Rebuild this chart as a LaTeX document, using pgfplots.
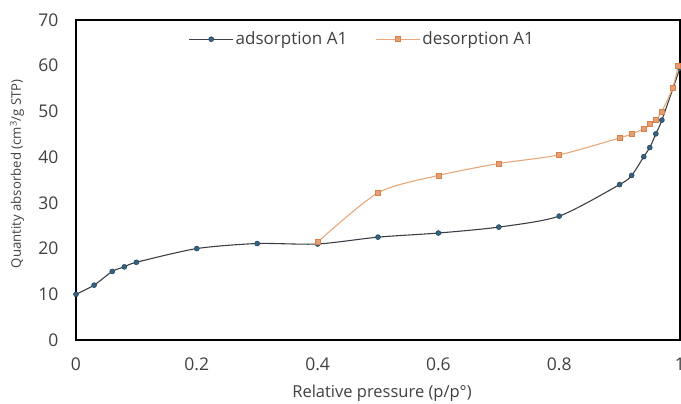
\documentclass[border=0pt]{standalone}
\usepackage{fontspec}
\setmainfont{Open Sans}
\usepackage{pgfplots}
\pgfplotsset{compat=1.18}
\definecolor{adsline}{RGB}{60,64,70}
\definecolor{adsmark}{RGB}{52,98,128}
\definecolor{desline}{RGB}{232,168,122}
\definecolor{desmark}{RGB}{218,128,72}
\definecolor{ticktext}{RGB}{64,64,64}

\begin{document}
\begin{tikzpicture}
\begin{axis}[
    scale only axis,
    width=604pt, height=320pt,
    xmin=0, xmax=1, ymin=0, ymax=70,
    xtick={0,0.2,0.4,0.6,0.8,1},
    ytick={0,10,...,70},
    xticklabels={0,0.2,0.4,0.6,0.8,1},
    /pgf/number format/assume math mode=true,
    tick style={draw=none},
    axis line style={black, line width=1.6pt},
    tick label style={font=\fontsize{17.5}{19}\selectfont, text=ticktext},
    xticklabel style={yshift=-14pt},
    yticklabel style={xshift=-14pt},
    xlabel={Relative pressure (p/p\textdegree)},
    ylabel={Quantity absorbed (cm\textsuperscript{3}/g STP)},
    xlabel style={font=\fontsize{16.5}{18}\selectfont, text=ticktext, at={(0.5,-0.13)}, anchor=north, xshift=4pt},
    ylabel style={font=\fontsize{13.2}{15}\selectfont, text=ticktext, at={(-0.08,0.52)}, anchor=south},
    legend style={draw=none, fill=none, at={(0.474,0.94)}, anchor=center,
        font=\fontsize{17}{19}\selectfont, text=ticktext,
        /tikz/every even column/.append style={column sep=26pt}},
    legend columns=2,
    legend image code/.code={
        \draw[#1] (0pt,0pt) -- (44pt,0pt);
        \draw[#1, only marks] plot coordinates {(22pt,0pt)};
    },
]
\addplot[smooth, tension=0.45, color=adsline, line width=1.1pt,
    mark=*, mark size=2.5pt, mark options={fill=adsmark, draw=adsmark!70!black, line width=0.5pt}]
coordinates {
    (0,10) (0.03,12) (0.06,15) (0.08,16) (0.1,17) (0.2,20) (0.3,21.1) (0.4,21)
    (0.5,22.5) (0.6,23.4) (0.7,24.7) (0.8,27.1) (0.9,34) (0.92,36) (0.94,40.1)
    (0.95,42.1) (0.96,45.1) (0.97,48.1) (1.0,59.5)
};
\addlegendentry{adsorption A1}
\addplot[smooth, tension=0.45, color=desline, line width=1.1pt,
    mark=square*, mark size=2.5pt, mark options={fill=desmark!75, draw=desmark, line width=0.6pt}]
coordinates {
    (0.4,21.4) (0.5,32.2) (0.6,36) (0.7,38.6) (0.8,40.5) (0.9,44.2) (0.92,45.1)
    (0.94,46.2) (0.95,47.2) (0.96,48.1) (0.97,50) (0.988,55.2) (0.997,60)
};
\addlegendentry{desorption A1}
\end{axis}
\pgfresetboundingbox
\path (-76pt,-64pt) rectangle (605pt,340pt);
\end{tikzpicture}
\end{document}
